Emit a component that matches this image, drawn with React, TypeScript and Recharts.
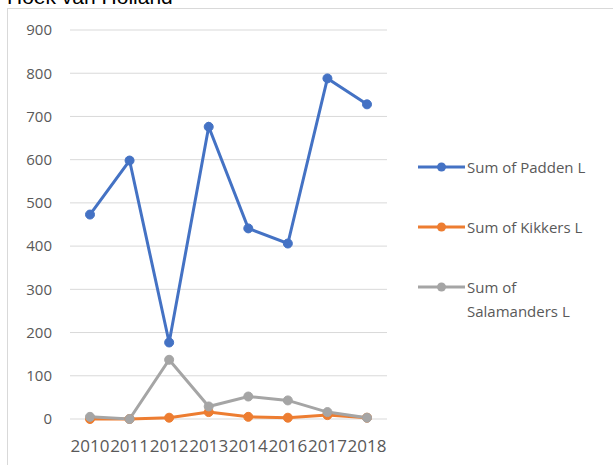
import { LineChart, Line, XAxis, YAxis, CartesianGrid } from "recharts"

const years = ["2010", "2011", "2012", "2013", "2014", "2016", "2017", "2018"]
const padden = [473, 598, 177, 676, 441, 406, 788, 728]
const kikkers = [0, 0, 3, 16, 5, 3, 9, 3]
const salamanders = [5, 0, 137, 29, 52, 43, 16, 3]
const yTicks = [0, 100, 200, 300, 400, 500, 600, 700, 800, 900]

const series = [
  { key: "padden", name: "Sum of Padden L", color: "#4472C4" },
  { key: "kikkers", name: "Sum of Kikkers L", color: "#ED7D31" },
  { key: "salamanders", name: "Sum of Salamanders L", color: "#A5A5A5" },
]

const data = years.map((year, i) => ({
  year,
  padden: padden[i],
  kikkers: kikkers[i],
  salamanders: salamanders[i],
}))

const font = "'Open Sans', 'DejaVu Sans', sans-serif"

// legend drawn next to the plot, same look as the Excel one
function LegendBox() {
  return (
    <div
      style={{
        position: "absolute",
        left: 418,
        top: 155,
        fontFamily: font,
        fontSize: 15,
        color: "#595959",
      }}
    >
      {series.map((s) => (
        <div key={s.key} style={{ display: "flex", alignItems: "flex-start", height: 60 }}>
          <svg width={49} height={24} style={{ flex: "none" }}>
            <line x1={0} y1={12} x2={47} y2={12} stroke={s.color} strokeWidth={3} />
            <circle cx={23.5} cy={12} r={4.5} fill={s.color} />
          </svg>
          <div style={{ width: 136, lineHeight: "24px" }}>{s.name}</div>
        </div>
      ))}
    </div>
  )
}

export default function App() {
  return (
    <div
      style={{
        position: "fixed",
        left: 0,
        top: 0,
        width: 613,
        height: 465,
        overflow: "hidden",
        background: "#fff",
      }}
    >
      <div
        style={{
          position: "absolute",
          left: 7,
          top: -14,
          fontFamily: "'Liberation Sans', Arial, sans-serif",
          fontSize: 21,
          lineHeight: 1,
          color: "#000",
          whiteSpace: "nowrap",
        }}
      >
        Hoek van Holland
      </div>
      <div
        style={{
          position: "absolute",
          left: 7,
          top: 8,
          width: 700,
          height: 600,
          border: "1px solid #D9D9D9",
        }}
      />
      <div style={{ position: "absolute", left: 0, top: 0 }}>
        <LineChart width={613} height={465} data={data} margin={{ top: 30, right: 226, bottom: 16, left: 0 }}>
          <CartesianGrid horizontal vertical={false} stroke="#D9D9D9" />
          <XAxis
            dataKey="year"
            axisLine={false}
            tickLine={false}
            tickMargin={15}
            height={30}
            interval={0}
            padding={{ left: 20, right: 20 }}
            tick={{ fill: "#595959", fontSize: 17, fontFamily: font }}
          />
          <YAxis
            domain={[0, 900]}
            ticks={yTicks}
            axisLine={false}
            tickLine={false}
            tickMargin={12}
            width={70}
            tick={{ fill: "#595959", fontSize: 15, fontFamily: font }}
          />
          {series.map((s) => (
            <Line
              key={s.key}
              type="linear"
              dataKey={s.key}
              name={s.name}
              stroke={s.color}
              strokeWidth={3}
              dot={{ r: 4.5, fill: s.color, stroke: s.color, strokeWidth: 1 }}
              isAnimationActive={false}
            />
          ))}
        </LineChart>
      </div>
      <LegendBox />
    </div>
  )
}
